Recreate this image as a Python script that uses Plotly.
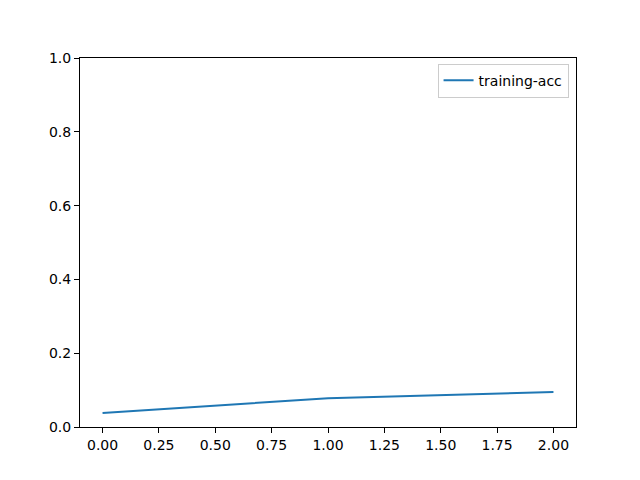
import plotly.graph_objects as go

epochs = [0, 1, 2]
training_acc = [0.038, 0.078, 0.095]
x_ticks = [0, 0.25, 0.5, 0.75, 1.0, 1.25, 1.5, 1.75, 2.0]
x_tick_labels = ["0.00", "0.25", "0.50", "0.75", "1.00", "1.25", "1.50", "1.75", "2.00"]
y_ticks = [0, 0.2, 0.4, 0.6, 0.8, 1.0]
y_tick_labels = ["0.0", "0.2", "0.4", "0.6", "0.8", "1.0"]

fig = go.Figure()
fig.add_trace(go.Scatter(x=epochs, y=training_acc, mode="lines", name="training-acc",
                         line=dict(color="#1f77b4", width=2)))

axis_common = dict(showline=True, linecolor="black", linewidth=1, mirror=True,
                   ticks="outside", ticklen=5, tickcolor="black", tickwidth=1,
                   showgrid=False, zeroline=False,
                   tickfont=dict(family="DejaVu Sans", size=14, color="black"))

fig.update_layout(
    width=632, height=472,
    margin=dict(l=72, r=64, t=50, b=53),
    paper_bgcolor="white", plot_bgcolor="white",
    font=dict(family="DejaVu Sans", size=14, color="black"),
    xaxis=dict(range=[-0.1, 2.1], tickvals=x_ticks, ticktext=x_tick_labels, **axis_common),
    yaxis=dict(range=[0, 1], tickvals=y_ticks, ticktext=y_tick_labels, **axis_common),
    legend=dict(x=0.985, y=0.985, xanchor="right", yanchor="top",
                bordercolor="#cccccc", borderwidth=1, bgcolor="white",
                font=dict(family="DejaVu Sans", size=14)),
    showlegend=True,
)

fig.write_html("out.html")
